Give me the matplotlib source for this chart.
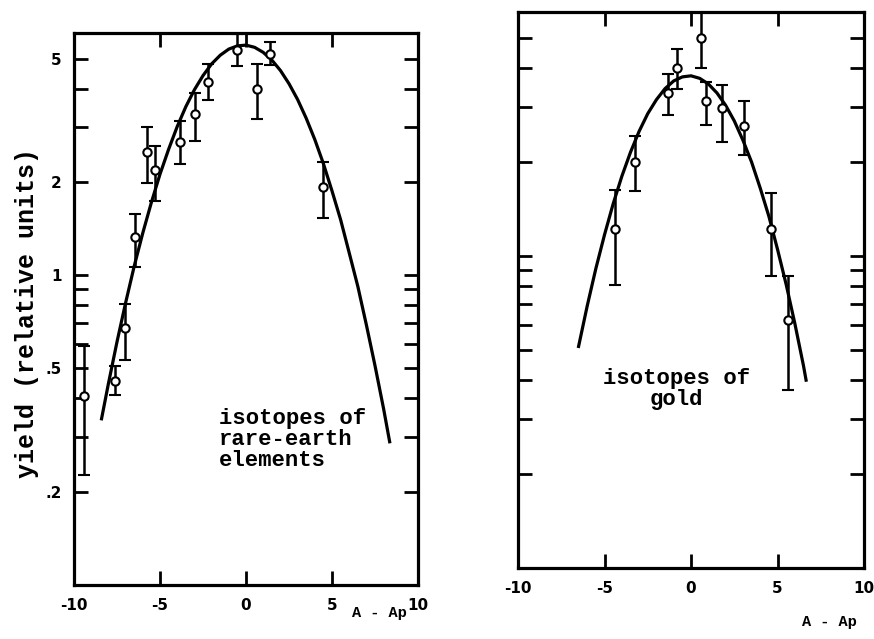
import matplotlib
matplotlib.use("Agg")
import matplotlib.pyplot as plt
from matplotlib.ticker import NullLocator

# === DATOS ===
# panel izquierdo: tierras raras
re_x = [-9.4, -7.64, -7.05, -6.45, -5.75, -5.3, -3.85, -2.95, -2.2, -0.5, 0.65, 1.4, 4.45]
re_y = [0.406, 0.457, 0.673, 1.33, 2.49, 2.18, 2.69, 3.31, 4.20, 5.34, 4.00, 5.16, 1.93]
re_lo = [0.226, 0.410, 0.533, 1.06, 1.99, 1.73, 2.28, 2.72, 3.67, 4.74, 3.20, 4.76, 1.53]
re_hi = [0.592, 0.511, 0.809, 1.58, 3.02, 2.61, 3.14, 3.88, 4.81, 6.0, 4.79, 5.65, 2.32]

re_fit_x = [-8.4, -8.0, -7.5, -7.0, -6.5, -6.0, -5.5, -5.0, -4.5, -4.0, -3.5, -3.0, -2.5,
            -2.0, -1.5, -1.0, -0.5, 0.0, 0.5, 1.0, 1.5, 2.0, 2.5, 3.0, 3.5, 4.0, 4.5,
            5.0, 5.5, 6.0, 6.5, 7.0, 7.5, 8.0, 8.35]
re_fit_y = [0.344, 0.447, 0.610, 0.815, 1.07, 1.37, 1.72, 2.12, 2.55, 3.02, 3.50, 3.97, 4.41,
            4.81, 5.13, 5.37, 5.50, 5.53, 5.44, 5.24, 4.95, 4.58, 4.15, 3.69, 3.21, 2.74, 2.29,
            1.87, 1.51, 1.18, 0.92, 0.69, 0.51, 0.37, 0.29]

# panel derecho: oro
au_x = [-4.4, -3.25, -1.35, -0.8, 0.55, 0.85, 1.8, 3.05, 4.6, 5.6]
au_y = [1.22, 2.00, 3.33, 4.00, 5.01, 3.14, 2.97, 2.61, 1.22, 0.625]
au_lo = [0.805, 1.62, 2.83, 3.44, 4.00, 2.62, 2.32, 2.11, 0.862, 0.373]
au_hi = [1.63, 2.42, 3.83, 4.60, 6.1, 3.62, 3.52, 3.14, 1.59, 0.86]

au_fit_x = [-6.5, -6.0, -5.5, -5.0, -4.5, -4.0, -3.5, -3.0, -2.5, -2.0, -1.5, -1.0, -0.5,
            0.0, 0.5, 1.0, 1.5, 2.0, 2.5, 3.0, 3.5, 4.0, 4.5, 5.0, 5.5, 6.0, 6.5, 6.65]
au_fit_y = [0.513, 0.692, 0.912, 1.17, 1.47, 1.80, 2.15, 2.51, 2.86, 3.17, 3.44, 3.64, 3.75,
            3.78, 3.71, 3.56, 3.33, 3.04, 2.71, 2.35, 2.00, 1.65, 1.34, 1.05, 0.81, 0.608,
            0.445, 0.40]

y_ticks = [0.2, 0.3, 0.4, 0.5, 0.6, 0.7, 0.8, 0.9, 1, 2, 3, 4, 5]
y_labels = {0.2: ".2", 0.5: ".5", 1: "1", 2: "2", 5: "5"}
x_ticks = [-10, -5, 0, 5, 10]

MONO = "Liberation Mono"

fig = plt.figure(figsize=(8.74, 6.39), dpi=100)
ax1 = fig.add_axes([0.0847, 0.0845, 0.3936, 0.8638])
ax2 = fig.add_axes([0.5927, 0.1111, 0.3959, 0.870])


def estilo(ax, etiquetas_y):
    ax.set_yscale("log")
    ax.set_xlim(-10, 10)
    ax.set_ylim(0.1, 6.05)
    ax.set_xticks(x_ticks)
    ax.set_xticklabels([str(t) for t in x_ticks])
    ax.set_yticks(y_ticks)
    if etiquetas_y:
        ax.set_yticklabels([y_labels.get(t, "") for t in y_ticks])
    else:
        ax.set_yticklabels(["" for t in y_ticks])
    ax.yaxis.set_minor_locator(NullLocator())
    ax.tick_params(direction="in", length=10, width=2, top=True, right=True,
                   labelsize=11, pad=9)
    for lab in ax.get_xticklabels() + ax.get_yticklabels():
        lab.set_fontweight("bold")
    for s in ax.spines.values():
        s.set_linewidth(2.3)


def puntos(ax, x, y, lo, hi, fx, fy):
    ax.plot(fx, fy, color="black", lw=2.3, zorder=2)
    err = [[v - l for v, l in zip(y, lo)], [h - v for v, h in zip(y, hi)]]
    ax.errorbar(x, y, yerr=err, fmt="o", ms=6, mfc="white", mec="black", mew=1.5,
                ecolor="black", elinewidth=1.8, capsize=4.5, capthick=2, zorder=3)


estilo(ax1, True)
estilo(ax2, False)
puntos(ax1, re_x, re_y, re_lo, re_hi, re_fit_x, re_fit_y)
puntos(ax2, au_x, au_y, au_lo, au_hi, au_fit_x, au_fit_y)

ax1.text(0.42, 0.32, "isotopes of\nrare-earth\nelements", transform=ax1.transAxes,
         ha="left", va="top", family=MONO, fontweight="bold", fontsize=16, linespacing=1.0)
ax2.text(0.457, 0.36, "isotopes of\ngold", transform=ax2.transAxes,
         ha="center", va="top", multialignment="center", family=MONO,
         fontweight="bold", fontsize=16, linespacing=1.0)

ax1.text(0.887, -0.051, "A - Ap", transform=ax1.transAxes, ha="center", va="center",
         family=MONO, fontweight="bold", fontsize=11)
ax2.text(0.899, -0.097, "A - Ap", transform=ax2.transAxes, ha="center", va="center",
         family=MONO, fontweight="bold", fontsize=11)

fig.text(0.031, 0.51, "yield (relative units)", rotation=90, ha="center", va="center",
         family=MONO, fontweight="bold", fontsize=18)

fig.savefig("out.png", dpi=100)
